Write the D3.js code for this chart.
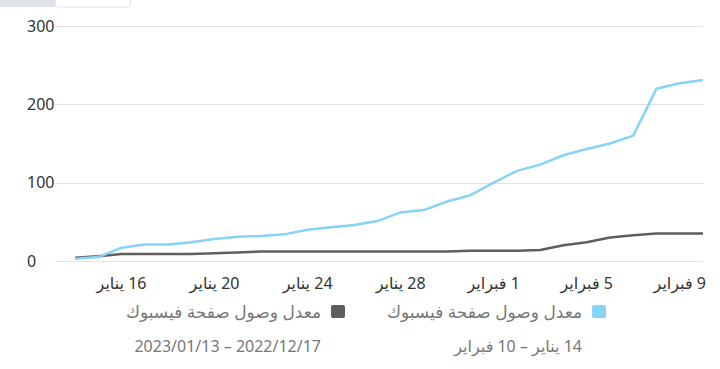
<!DOCTYPE html>
<html>
<head>
<meta charset="utf-8">
<script src="https://cdn.jsdelivr.net/npm/d3@7/dist/d3.min.js"></script>
<style>
  body { margin: 0; background: #fff; }
  svg { display: block; font-family: "Noto Sans", "DejaVu Sans", sans-serif; }
</style>
</head>
<body>
<svg id="chart" viewBox="0 0 720 369" width="720" height="369"></svg>
<script>
// daily values, 14 Jan -> 10 Feb 2023
const dates = d3.timeDays(new Date(2023, 0, 14), new Date(2023, 1, 11));
const reachCurrent = [3, 5, 17, 21, 21, 24, 28, 31, 32, 34, 40, 43, 46, 51, 62, 65, 76, 84, 100, 115,
                      123, 135, 143, 150, 160, 220, 227, 231];
const reachPrevious = [4, 6, 9, 9, 9, 9, 10, 11, 12, 12, 12, 12, 12, 12, 12, 12, 12, 13, 13, 13,
                       14, 20, 24, 30, 33, 35, 35, 35];
const yTicks = [0, 100, 200, 300];
const xTickDates = [new Date(2023, 0, 16), new Date(2023, 0, 20), new Date(2023, 0, 24), new Date(2023, 0, 28),
                    new Date(2023, 1, 1), new Date(2023, 1, 5), new Date(2023, 1, 9)];
const monthNames = ["يناير", "فبراير"];
const seriesNames = ["معدل وصول صفحة فيسبوك", "معدل وصول صفحة فيسبوك"];
const seriesRanges = ["14 يناير – 10 فبراير", "2022/12/17 – 2023/01/13"];
const seriesColors = ["#86d3f7", "#5e5e5e"];

let svg = d3.select("#chart");

// bit of page chrome cut off at the top left
svg.append("rect").attr("x", 0).attr("y", -4).attr("width", 55).attr("height", 11).attr("fill", "#dfe3e8");
svg.append("rect").attr("x", 55.5).attr("y", -4).attr("width", 75).attr("height", 11).attr("rx", 3)
    .attr("fill", "#fff").attr("stroke", "#e3e3e3");

let x = d3.scaleTime()
    .domain([dates[0], dates[dates.length - 1]])
    .range([75, 703]);

let y = d3.scaleLinear()
    .domain([0, 300])
    .range([261, 26]);

/* ----- grid + y labels ----- */
let grid = svg.append("g");
grid.selectAll("line")
    .data(yTicks)
    .enter()
    .append("line")
    .attr("x1", 55).attr("x2", 703)
    .attr("y1", d => Math.round(y(d)) + 0.5)
    .attr("y2", d => Math.round(y(d)) + 0.5)
    .attr("stroke", "#e2e2e2")
    .attr("stroke-width", 1.2);

grid.selectAll("text")
    .data(yTicks)
    .enter()
    .append("text")
    .attr("x", 27)
    .attr("y", d => y(d) + 5.5)
    .attr("fill", "#333")
    .style("font-size", "16px")
    .text(d => d);

/* ----- x labels ----- */
svg.append("g").selectAll("text")
    .data(xTickDates)
    .enter()
    .append("text")
    .attr("x", d => x(d))
    .attr("y", 289)
    .attr("text-anchor", "middle")
    .attr("direction", "rtl")
    .attr("fill", "#333")
    .style("font-size", "16px")
    .text(d => d.getDate() + " " + monthNames[d.getMonth()]);

/* ----- lines ----- */
let line = d3.line()
    .x((d, i) => x(dates[i]))
    .y(d => y(d));

svg.append("path")
    .datum(reachPrevious)
    .attr("d", line)
    .attr("fill", "none")
    .attr("stroke", seriesColors[1])
    .attr("stroke-width", 2.5)
    .attr("stroke-linejoin", "round");

svg.append("path")
    .datum(reachCurrent)
    .attr("d", line)
    .attr("fill", "none")
    .attr("stroke", seriesColors[0])
    .attr("stroke-width", 2.5)
    .attr("stroke-linejoin", "round");

/* ----- legend ----- */
let legendX = [606, 345];
let legend = svg.append("g").selectAll("g")
    .data(seriesNames)
    .enter()
    .append("g")
    .attr("transform", (d, i) => `translate(${legendX[i]}, 0)`);

legend.append("rect")
    .attr("x", -14).attr("y", 305)
    .attr("width", 14).attr("height", 13)
    .attr("rx", 2)
    .attr("fill", (d, i) => seriesColors[i]);

legend.append("text")
    .attr("x", -24)
    .attr("y", 318)
    .attr("direction", "rtl")
    .attr("text-anchor", "start")
    .attr("fill", "#777")
    .style("font-size", "17px")
    .text(d => d);

legend.append("text")
    .attr("x", -24)
    .attr("y", 352)
    .attr("direction", "rtl")
    .attr("text-anchor", "start")
    .attr("fill", "#777")
    .style("font-size", "16px")
    .text((d, i) => seriesRanges[i]);
</script>
</body>
</html>
